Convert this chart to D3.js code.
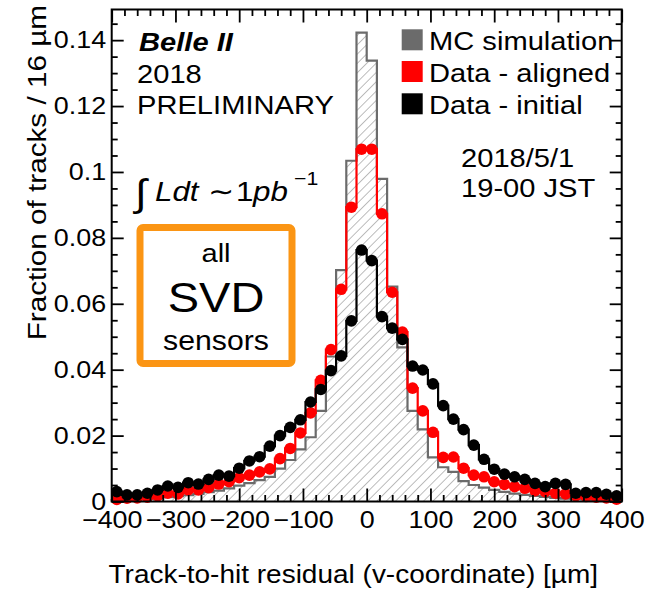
<!DOCTYPE html>
<html><head><meta charset="utf-8">
<script src="https://cdn.jsdelivr.net/npm/d3@7"></script>
<style>
html,body{margin:0;padding:0;background:#fff;}
svg{display:block;font-family:"Liberation Sans",Arial,Helvetica,sans-serif;}
</style></head><body>
<svg id="c" width="662" height="590"></svg>
<script>
// ---- data ----
const binCenters = [-392,-376,-360,-344,-328,-312,-296,-280,-264,-248,-232,-216,-200,-184,-168,-152,-136,-120,-104,-88,-72,-56,-40,-24,-8,8,24,40,56,72,88,104,120,136,152,168,184,200,216,232,248,264,280,296,312,328,344,360,376,392];
const binWidth = 16;
const mcSimulation = [0.0004,0.0005,0.0006,0.0008,0.0010,0.0013,0.0016,0.0019,0.0023,0.0028,0.0033,0.0040,0.0048,0.0056,0.0065,0.0075,0.0100,0.0126,0.0158,0.0195,0.0275,0.0440,0.0702,0.1034,0.1423,0.1338,0.0979,0.0652,0.0468,0.0275,0.0219,0.0134,0.0104,0.0090,0.0062,0.0050,0.0042,0.0035,0.0029,0.0024,0.0020,0.0017,0.0014,0.0011,0.0009,0.0008,0.0006,0.0005,0.0004,0.0003];
const dataAligned = [0.0006,0.0010,0.0011,0.0013,0.0017,0.0025,0.0023,0.0035,0.0035,0.0042,0.0053,0.0060,0.0072,0.0080,0.0090,0.0099,0.0130,0.0161,0.0208,0.0269,0.0368,0.0461,0.0644,0.0893,0.1069,0.1069,0.0873,0.0635,0.0514,0.0344,0.0275,0.0210,0.0134,0.0135,0.0101,0.0080,0.0075,0.0060,0.0052,0.0045,0.0040,0.0033,0.0030,0.0025,0.0023,0.0017,0.0015,0.0013,0.0011,0.0007];
const dataInitial = [0.0030,0.0020,0.0020,0.0025,0.0035,0.0047,0.0043,0.0057,0.0053,0.0067,0.0080,0.0077,0.0101,0.0123,0.0136,0.0168,0.0200,0.0225,0.0248,0.0302,0.0340,0.0397,0.0442,0.0548,0.0763,0.0731,0.0561,0.0526,0.0492,0.0411,0.0399,0.0357,0.0291,0.0250,0.0218,0.0171,0.0128,0.0098,0.0083,0.0075,0.0067,0.0055,0.0045,0.0055,0.0052,0.0025,0.0027,0.0027,0.0022,0.0017];
const xTickValues = [-400,-300,-200,-100,0,100,200,300,400];
const yTickValues = [0,0.02,0.04,0.06,0.08,0.1,0.12,0.14];
const legendLabels = ["MC simulation","Data - aligned","Data - initial"];
const legendColors = ["#6b6b6b","#ff0000","#000000"];

// ---- layout ----
const PL=111.7, PR=621.7, PT=9.5, PB=501.5;
const SX=1.12;
const x = d3.scaleLinear().domain([-400,400]).range([PL,PR]);
const y = d3.scaleLinear().domain([0,0.1493]).range([PB,PT]);
const svg = d3.select("#c");

function txt(parent, tx, ty, s, size, anchor, extra){
  const t = parent.append("text")
    .attr("transform",`translate(${tx},${ty}) scale(${SX},1)`)
    .attr("font-size",size).attr("text-anchor",anchor||"start").attr("fill","#000").text(s);
  if(extra) extra(t);
  return t;
}

// hatch pattern
const defs = svg.append("defs");
defs.append("pattern").attr("id","hatch").attr("patternUnits","userSpaceOnUse")
  .attr("width",6.6).attr("height",6.6).attr("patternTransform","rotate(45)")
  .append("line").attr("x1",0).attr("y1",0).attr("x2",0).attr("y2",6.6)
  .attr("stroke","#7a7a7a").attr("stroke-width",1);

const edges = binCenters.map(c=>c-binWidth/2).concat([binCenters[binCenters.length-1]+binWidth/2]);
function stepPts(vals){
  const p = vals.map((v,i)=>[edges[i],v]);
  p.push([edges[edges.length-1], vals[vals.length-1]]);
  return p;
}
const lineStep = d3.line().x(d=>x(d[0])).y(d=>y(d[1])).curve(d3.curveStepAfter);
const areaStep = d3.area().x(d=>x(d[0])).y0(y(0)).y1(d=>y(d[1])).curve(d3.curveStepAfter);

// MC histogram
const mcPts = stepPts(mcSimulation);
svg.append("path").attr("d",areaStep(mcPts)).attr("fill","url(#hatch)");
svg.append("path").attr("d",lineStep([[edges[0],0]].concat(mcPts,[[edges[edges.length-1],0]])))
  .attr("fill","none").attr("stroke","#6b6b6b").attr("stroke-width",2.2);

// data series
function drawData(vals,color){
  svg.append("path").attr("d",lineStep(stepPts(vals))).attr("fill","none")
    .attr("stroke",color).attr("stroke-width",2.2);
  svg.append("g").selectAll("circle").data(vals).join("circle")
    .attr("cx",(d,i)=>x(binCenters[i])).attr("cy",d=>y(d)).attr("r",5.8).attr("fill",color);
}
drawData(dataAligned,"#ff0000");
drawData(dataInitial,"#000000");

// axes
const xMinor = d3.range(-400,401,20).filter(v=>v%100!==0);
const yMinor = d3.range(0,0.1451,0.005).filter(v=>Math.abs(v/0.02-Math.round(v/0.02))>1e-6);
const fmtX = d=> d<0 ? "\u2212"+Math.abs(d) : String(d);
const fmtY = d=> d===0 ? "0" : d3.format(".2~f")(d);

function styleAxis(g){
  g.select(".domain").remove();
  g.selectAll(".tick line").attr("stroke","#000").attr("stroke-width",1.8);
  g.selectAll(".tick text").attr("fill","#000").attr("font-size",24)
   .attr("font-family","Liberation Sans, Arial, sans-serif");
}
const gx = svg.append("g").attr("transform",`translate(0,${PB})`)
  .call(d3.axisBottom(x).tickValues(xTickValues).tickSize(-13).tickPadding(9.5).tickSizeOuter(0).tickFormat(fmtX)).call(styleAxis);
gx.selectAll(".tick text").attr("transform",`scale(${SX},1)`);
svg.append("g").attr("transform",`translate(0,${PB})`)
  .call(d3.axisBottom(x).tickValues(xMinor).tickSize(-6.5).tickSizeOuter(0).tickFormat("")).call(styleAxis);
svg.append("g").attr("transform",`translate(0,${PT})`)
  .call(d3.axisTop(x).tickValues(xTickValues).tickSize(-13).tickSizeOuter(0).tickFormat("")).call(styleAxis);
svg.append("g").attr("transform",`translate(0,${PT})`)
  .call(d3.axisTop(x).tickValues(xMinor).tickSize(-6.5).tickSizeOuter(0).tickFormat("")).call(styleAxis);

const gy = svg.append("g").attr("transform",`translate(${PL},0)`)
  .call(d3.axisLeft(y).tickValues(yTickValues).tickSize(-12).tickPadding(5).tickSizeOuter(0).tickFormat(fmtY)).call(styleAxis);
gy.selectAll(".tick text").attr("transform",`scale(${SX},1)`);
svg.append("g").attr("transform",`translate(${PL},0)`)
  .call(d3.axisLeft(y).tickValues(yMinor).tickSize(-6).tickSizeOuter(0).tickFormat("")).call(styleAxis);
svg.append("g").attr("transform",`translate(${PR},0)`)
  .call(d3.axisRight(y).tickValues(yTickValues).tickSize(-12).tickSizeOuter(0).tickFormat("")).call(styleAxis);
svg.append("g").attr("transform",`translate(${PR},0)`)
  .call(d3.axisRight(y).tickValues(yMinor).tickSize(-6).tickSizeOuter(0).tickFormat("")).call(styleAxis);

// frame
svg.append("rect").attr("x",PL).attr("y",PT).attr("width",PR-PL).attr("height",PB-PT)
  .attr("fill","none").attr("stroke","#000").attr("stroke-width",2);

// axis titles
txt(svg, 598, 583, "Track-to-hit residual (v-coordinate) [\u00b5m]", 25, "end");
svg.append("text").attr("transform",`translate(46,5) rotate(-90) scale(${SX},1)`)
  .attr("font-size",26.5).attr("text-anchor","end").attr("fill","#000")
  .text("Fraction of tracks / 16 \u00b5m");

// Belle II labels
txt(svg, 139, 51, "Belle II", 26, "start", t=>t.attr("font-weight","bold").attr("font-style","italic"));
txt(svg, 137, 83, "2018", 26);
txt(svg, 137, 114, "PRELIMINARY", 26);

// luminosity
const lum = svg.append("g");
txt(lum, 135, 206, "\u222b", 38);
txt(lum, 155, 201, "Ldt", 28, "start", t=>t.attr("font-style","italic"));
txt(lum, 208, 201, "\u223c", 28);
txt(lum, 236, 201, "1", 28);
txt(lum, 253, 201, "pb", 28, "start", t=>t.attr("font-style","italic"));
txt(lum, 294, 185, "\u22121", 19);

// date
txt(svg, 461, 167, "2018/5/1", 26);
txt(svg, 461, 197, "19-00 JST", 26);

// legend
legendLabels.forEach((lab,i)=>{
  const yy = [29.3,61,93.3][i];
  svg.append("rect").attr("x",401.7).attr("y",yy).attr("width",21).attr("height",21).attr("fill",legendColors[i]);
  txt(svg, 429, yy+21, lab, 26);
});

// SVD box
svg.append("rect").attr("x",140).attr("y",227.5).attr("width",152).attr("height",136)
  .attr("rx",3).attr("fill","none").attr("stroke","#fb9514").attr("stroke-width",7);
txt(svg, 216, 261.5, "all", 26, "middle");
txt(svg, 216, 311.5, "SVD", 42, "middle");
txt(svg, 216, 350, "sensors", 27, "middle");
</script>
</body></html>
